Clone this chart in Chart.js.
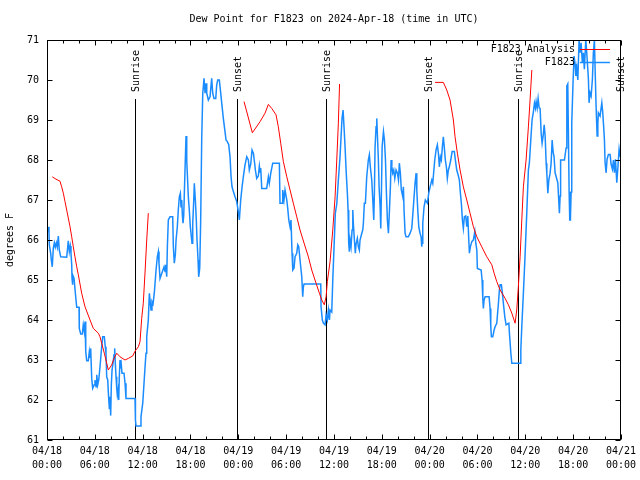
<!DOCTYPE html>
<html><head><meta charset="utf-8">
<script src="https://cdn.jsdelivr.net/npm/chart.js@4.4.0/dist/chart.umd.min.js"></script>
<style>html,body{margin:0;padding:0;background:#fff;}#wrap{width:640px;height:480px;}</style>
</head><body><div id="wrap"><canvas id="c" width="640" height="480"></canvas></div>
<script>
const titleText = 'Dew Point for F1823 on 2024-Apr-18 (time in UTC)';
const yAxisTitle = 'degrees F';
const seriesNames = ['F1823 Analysis', 'F1823'];
const yTicks = [61, 62, 63, 64, 65, 66, 67, 68, 69, 70, 71];
const xTickHours = [0, 6, 12, 18, 24, 30, 36, 42, 48, 54, 60, 66, 72];
const startMonth = '04';
const startDay = 18;
const sunHours = [11.05, 23.88, 35.02, 47.84, 59.12, 71.9];
const sunLabels = ['Sunrise', 'Sunset', 'Sunrise', 'Sunset', 'Sunrise', 'Sunset'];

const redHours = [0.67,1.13,1.63,1.84,2.05,2.26,2.47,2.67,2.89,3.10,3.30,3.51,3.73,3.93,4.35,4.77,5.40,5.81,6.44,6.65,6.86,7.19,7.49,7.69,8.12,8.41,8.75,9.16,9.79,10.20,10.75,11.04,11.46,11.67,11.88,12.08,12.30,12.51,12.71,
 18,
 24.72,25.76,26.73,27.35,27.77,28.19,28.73,29.02,29.32,29.65,30.08,30.49,30.90,31.33,31.74,32.25,32.79,33.21,33.75,34.17,34.47,34.79,35.01,35.17,35.51,35.85,36.14,36.35,36.55,36.70,
 42,
 48.68,49.72,50.15,50.56,50.98,51.19,51.48,51.82,52.23,52.66,53.07,53.49,53.92,54.54,55.17,55.80,56.09,56.42,56.84,57.47,57.88,58.31,58.72,58.93,59.13,59.35,59.56,59.76,60.10,60.39,60.60,60.82];
const redValues = [67.58,67.52,67.47,67.33,67.17,66.96,66.75,66.55,66.33,66.08,65.83,65.58,65.33,65.13,64.67,64.33,64.0,63.79,63.67,63.58,63.42,63.17,62.92,62.75,62.88,63.04,63.17,63.08,63.0,63.04,63.1,63.22,63.33,63.46,64.04,64.42,65.2,66.0,66.67,
 null,
 69.46,68.68,68.96,69.17,69.39,69.29,69.13,68.83,68.42,67.96,67.58,67.25,66.92,66.58,66.25,65.92,65.58,65.25,64.92,64.67,64.5,64.38,64.58,64.96,65.46,66.25,67.08,68.0,68.92,69.9,
 null,
 69.94,69.94,69.75,69.5,69.0,68.58,68.17,67.75,67.33,67.0,66.67,66.33,66.08,65.83,65.58,65.38,65.17,64.96,64.75,64.54,64.38,64.17,63.92,64.25,64.83,65.58,66.5,67.33,68.0,68.83,69.5,70.25];

const blueHours = [0.16,0.25,0.29,0.46,0.54,0.66,0.79,0.92,1.04,1.17,1.29,1.42,1.54,1.72,2.47,2.60,2.67,2.80,2.92,3.01,3.10,3.14,3.17,3.26,3.39,3.60,3.73,4.02,4.05,4.23,4.43,4.55,4.68,4.77,4.86,4.98,5.18,5.31,5.40,5.48,5.61,5.73,5.93,6.02,6.15,6.24,6.36,6.49,6.65,6.86,6.99,7.19,7.31,7.40,7.49,7.62,7.69,7.82,7.90,7.99,8.07,8.16,8.28,8.41,8.49,8.57,8.66,8.75,8.82,8.91,9.00,9.07,9.16,9.25,9.32,9.41,9.66,9.79,9.91,11.04,11.06,11.13,11.17,11.67,11.79,12.01,12.17,12.30,12.42,12.51,12.71,12.84,13.05,13.17,13.30,13.46,13.68,13.84,13.97,14.05,14.18,14.68,14.81,14.89,15.02,15.10,15.22,15.43,15.77,15.85,15.97,16.10,16.19,16.35,16.47,16.60,16.73,16.81,16.90,16.98,17.06,17.15,17.23,17.35,17.44,17.53,17.60,17.73,17.85,17.98,18.11,18.19,18.28,18.41,18.48,18.61,18.73,18.82,18.95,19.03,19.16,19.28,19.41,19.54,19.70,19.83,19.95,20.04,20.24,20.45,20.66,20.79,20.95,21.17,21.29,21.42,21.62,21.71,21.92,22.12,22.33,22.46,22.62,22.80,22.96,23.09,23.21,23.38,23.59,23.80,24.00,24.13,24.30,24.47,24.63,24.84,25.06,25.26,25.38,25.56,25.72,25.89,26.06,26.14,26.31,26.51,26.64,26.73,26.81,26.94,27.56,27.77,27.89,28.07,28.32,29.15,29.23,29.49,29.57,29.73,29.86,30.08,30.20,30.33,30.49,30.61,30.74,30.83,30.99,31.12,31.33,31.46,31.58,31.66,31.83,31.96,32.08,32.16,32.25,34.34,34.38,34.54,34.67,34.88,35.01,35.17,35.30,35.43,35.51,35.72,35.85,36.01,36.17,36.35,36.55,36.76,36.89,37.01,37.14,37.26,37.39,37.52,37.68,37.77,37.85,37.93,38.02,38.14,38.27,38.36,38.43,38.56,38.68,38.77,38.93,39.06,39.18,39.27,39.49,39.61,39.69,39.81,39.94,40.11,40.31,40.44,40.56,40.74,40.87,40.99,41.07,41.15,41.28,41.37,41.44,41.57,41.66,41.79,41.87,41.95,42.04,42.21,42.33,42.46,42.58,42.70,42.83,42.96,43.08,43.17,43.26,43.37,43.50,43.63,43.79,43.96,44.09,44.20,44.33,44.45,44.63,44.71,44.79,44.92,45.04,45.33,45.55,45.76,45.96,46.17,46.30,46.39,46.51,46.64,46.80,46.93,47.01,47.05,47.14,47.30,47.46,47.72,47.89,48.06,48.27,48.39,48.47,48.64,48.81,48.97,49.10,49.22,49.35,49.47,49.60,49.72,49.85,49.97,50.10,50.22,50.35,50.47,50.65,50.82,51.10,51.23,51.40,51.57,51.73,51.86,51.98,52.11,52.23,52.36,52.53,52.66,52.79,52.91,52.99,53.11,53.29,53.49,53.67,53.79,53.92,53.99,54.46,54.58,54.67,54.74,54.83,54.96,55.46,55.58,55.67,55.75,55.92,56.09,56.21,56.42,56.63,56.75,56.84,57.00,57.13,57.25,57.43,57.59,57.76,57.94,58.01,58.19,58.31,59.35,59.44,59.56,59.76,59.97,60.19,60.39,60.51,60.69,60.85,61.02,61.15,61.27,61.36,61.49,61.61,61.74,61.86,61.99,62.11,62.24,62.37,62.49,62.62,62.70,62.83,62.95,63.11,63.24,63.37,63.49,63.61,63.74,64.08,64.28,64.37,64.43,64.91,65.12,65.21,65.33,65.50,65.58,65.66,65.75,65.83,66.00,66.12,66.25,66.34,66.46,66.59,66.75,66.88,67.00,67.16,67.29,67.41,67.59,67.71,67.92,68.00,68.13,68.26,68.42,68.54,68.67,68.76,68.88,69.01,69.10,69.17,69.38,69.60,69.72,69.80,69.93,70.01,70.14,70.26,70.43,70.64,70.76,70.93,71.06,71.18,71.31,71.48,71.61,71.77,71.89,72.0];
const blueValues = [66.33,66.18,65.88,65.67,65.5,65.33,65.79,65.93,65.82,65.93,65.82,66.1,65.75,65.58,65.57,65.83,65.98,65.71,65.85,65.67,65.38,65.04,64.88,65.13,65.04,64.58,64.32,64.32,63.79,63.65,63.65,63.88,63.71,63.96,63.21,62.98,62.98,63.21,63.07,63.29,62.54,62.29,62.38,62.5,62.33,62.63,62.38,62.5,62.83,63.33,63.58,63.58,63.33,63.17,62.58,62.5,62.21,61.79,62.08,61.61,62.38,62.75,62.92,63.13,63.29,62.92,62.58,62.29,62.13,62.25,62.0,62.58,63.0,62.79,62.88,62.67,62.67,62.42,62.04,62.04,61.88,61.5,61.35,61.35,61.58,61.92,62.42,62.83,63.17,63.58,64.0,64.67,64.25,64.46,64.4,64.67,65.25,65.58,65.71,65.42,65.04,65.33,65.21,65.38,65.08,65.83,66.5,66.58,66.58,65.83,65.42,65.63,66.0,66.33,66.75,67.08,67.17,66.83,67.0,66.63,66.42,66.6,67.17,68.0,68.6,68.0,67.67,67.08,66.75,66.33,66.08,65.92,66.4,67.0,67.42,67.0,66.5,66.0,65.5,65.08,65.3,66.5,68.54,69.67,70.04,69.67,69.92,69.67,69.5,69.58,70.04,69.67,69.54,69.54,69.88,70.0,70.0,69.83,69.42,69.04,68.71,68.5,68.46,68.38,68.08,67.58,67.33,67.21,67.08,66.96,66.71,66.5,67.0,67.33,67.58,67.88,68.08,68.0,67.75,67.9,68.25,68.17,67.9,67.75,67.54,67.6,67.85,67.7,67.8,67.29,67.29,67.58,67.42,67.67,67.92,67.92,66.92,66.92,67.25,67.0,67.25,67.0,66.79,66.5,66.33,66.5,65.67,65.25,65.3,65.58,65.67,65.88,65.83,65.67,65.33,65.08,64.58,64.83,64.9,64.9,64.33,64.0,63.92,63.88,64.13,64.0,64.25,64.0,64.25,64.2,65.0,65.83,66.67,66.9,67.5,68.08,68.58,69.04,69.25,68.83,68.33,67.75,67.17,66.75,65.92,65.71,66.0,65.83,66.25,66.75,66.42,66.0,65.67,65.9,66.04,65.83,65.75,66.0,66.17,66.25,66.42,66.92,66.92,67.58,68.0,68.13,67.83,67.5,67.0,66.5,67.17,68.29,68.83,69.04,68.67,68.0,67.33,66.83,66.29,67.17,68.33,68.71,68.5,68.0,67.17,66.5,66.17,66.75,67.33,68.0,67.83,67.67,67.75,67.54,67.75,67.67,67.5,67.92,67.67,67.25,67.08,67.33,66.75,66.17,66.08,66.08,66.17,66.29,66.83,67.42,67.67,67.25,66.75,66.33,66.17,66.08,65.83,65.92,66.42,66.83,67.0,66.92,67.17,67.33,67.5,67.42,67.6,68.0,68.25,68.38,68.17,67.83,68.08,68.0,68.33,68.58,68.29,68.0,67.83,67.54,67.75,67.83,68.0,68.21,68.21,68.0,67.75,67.63,67.5,67.17,66.92,66.5,66.29,66.58,66.6,66.33,66.6,66.0,65.67,65.83,65.96,66.0,66.21,65.92,65.75,65.29,65.25,65.0,64.54,64.29,64.5,64.58,64.58,64.29,63.83,63.58,63.58,63.75,63.83,63.92,64.42,64.75,64.88,64.88,64.67,64.42,64.08,63.88,63.9,63.92,63.67,63.17,62.92,62.92,63.25,63.83,64.67,65.6,66.7,67.75,67.92,68.5,69.0,69.21,69.42,69.3,69.46,69.3,69.54,69.3,69.29,68.67,68.42,68.6,68.88,68.6,67.92,67.67,67.17,67.5,67.67,67.92,68.5,68.2,68.08,67.68,67.43,66.67,67.1,68.0,68.0,68.3,69.85,69.9,67.2,66.5,66.5,67.2,68.93,70.0,70.6,70.4,70.1,70.3,70.0,71.0,70.68,70.93,70.43,70.68,70.27,71.0,70.68,70.02,69.43,69.68,69.6,70.02,70.68,71.0,70.27,69.35,68.6,68.9,69.18,69.1,69.43,69.18,68.93,68.5,67.93,67.68,68.02,68.14,68.14,67.9,67.77,68.0,67.68,68.02,67.43,67.8,68.27,68.1,68.2];

const FONT_FAMILY = '"DejaVu Sans Mono", "Liberation Mono", monospace';
const FONT = '10px ' + FONT_FAMILY;
const RED = '#ff0000';
const BLUE = '#1a8cff';

function pad2(n){ return (n < 10 ? '0' : '') + n; }
function hourLabel(h){
  const day = startDay + Math.floor(h / 24);
  const hr = h % 24;
  return [startMonth + '/' + pad2(day), pad2(hr) + ':00'];
}

const decor = {
  id: 'decor',
  beforeDatasetsDraw(chart){
    const {ctx, chartArea: a, scales: {x}} = chart;
    ctx.save();
    ctx.strokeStyle = '#000';
    ctx.lineWidth = 1;
    ctx.font = FONT;
    ctx.fillStyle = '#000';
    sunHours.forEach((h, i) => {
      const px = Math.round(x.getPixelForValue(h)) + 0.5;
      ctx.beginPath();
      ctx.moveTo(px, a.top + 59);
      ctx.lineTo(px, a.bottom);
      ctx.stroke();
      ctx.save();
      ctx.translate(px + 1, a.top + 52);
      ctx.rotate(-Math.PI / 2);
      ctx.textAlign = 'left';
      ctx.textBaseline = 'middle';
      ctx.fillText(sunLabels[i], 0, 0);
      ctx.restore();
    });
    ctx.restore();
  },
  afterDraw(chart){
    const {ctx, chartArea: a, scales: {x, y}} = chart;
    ctx.save();
    ctx.strokeStyle = '#000';
    ctx.lineWidth = 1;
    const L = Math.round(a.left) + 0.5, R = Math.round(a.right) - 0.5;
    const T = Math.round(a.top) + 0.5, B = Math.round(a.bottom) - 0.5;
    ctx.strokeRect(L, T, R - L, B - T);
    ctx.beginPath();
    // y ticks (inward on both sides)
    yTicks.forEach(v => {
      const py = Math.round(y.getPixelForValue(v)) + 0.5;
      ctx.moveTo(L, py); ctx.lineTo(L + 5, py);
      ctx.moveTo(R, py); ctx.lineTo(R - 5, py);
    });
    // x ticks: major every 6 h, minor every 2 h, inward top and bottom
    for (let h = 0; h <= 72; h += 2) {
      const px = Math.round(x.getPixelForValue(h)) + 0.5;
      const len = (h % 6 === 0) ? 5 : 3;
      ctx.moveTo(px, B); ctx.lineTo(px, B - len);
      ctx.moveTo(px, T); ctx.lineTo(px, T + len);
    }
    ctx.stroke();
    // legend
    ctx.font = FONT;
    ctx.fillStyle = '#000';
    ctx.textAlign = 'right';
    ctx.textBaseline = 'middle';
    const colors = [RED, BLUE];
    seriesNames.forEach((name, i) => {
      const ly = a.top + 9 + i * 13;
      ctx.fillText(name, a.right - 46, ly);
      ctx.strokeStyle = colors[i];
      ctx.lineWidth = i === 0 ? 1 : 1.5;
      ctx.beginPath();
      ctx.moveTo(a.right - 41, Math.round(ly) + 0.5);
      ctx.lineTo(a.right - 11, Math.round(ly) + 0.5);
      ctx.stroke();
    });
    ctx.restore();
  }
};

new Chart(document.getElementById('c'), {
  type: 'line',
  data: {
    datasets: [
      {
        label: seriesNames[0],
        data: redHours.map((h, i) => ({x: h, y: redValues[i]})),
        borderColor: RED,
        borderWidth: 1,
        pointRadius: 0,
        tension: 0,
        spanGaps: false,
        fill: false
      },
      {
        label: seriesNames[1],
        data: blueHours.map((h, i) => ({x: h, y: blueValues[i]})),
        borderColor: BLUE,
        borderWidth: 1.5,
        pointRadius: 0,
        tension: 0,
        fill: false
      }
    ]
  },
  options: {
    responsive: false,
    animation: false,
    devicePixelRatio: 1,
    layout: {padding: {left: 0, right: 19, top: 0, bottom: 0}},
    plugins: {
      legend: {display: false},
      tooltip: {enabled: false},
      title: {
        display: true,
        text: titleText,
        fullSize: false,
        color: '#000',
        font: {family: FONT_FAMILY, size: 10, weight: 'normal', lineHeight: 1.2},
        padding: {top: 13, bottom: 15}
      }
    },
    scales: {
      x: {
        type: 'linear',
        min: 0, max: 72,
        afterBuildTicks: (axis) => { axis.ticks = xTickHours.map(v => ({value: v})); },
        afterFit: (s) => { s.height = 40; },
        grid: {display: false, drawTicks: false},
        border: {display: false},
        ticks: {
          autoSkip: false,
          maxRotation: 0,
          color: '#000',
          padding: 4,
          font: {family: FONT_FAMILY, size: 10, lineHeight: 1.45},
          callback: (v) => hourLabel(v)
        }
      },
      y: {
        type: 'linear',
        min: 61, max: 71,
        afterBuildTicks: (axis) => { axis.ticks = yTicks.map(v => ({value: v})); },
        afterFit: (s) => { s.width = 47; },
        grid: {display: false, drawTicks: false},
        border: {display: false},
        title: {
          display: true,
          text: yAxisTitle,
          color: '#000',
          font: {family: FONT_FAMILY, size: 10, lineHeight: 1.2},
          padding: {top: 4, bottom: 0}
        },
        ticks: {
          color: '#000',
          padding: 8,
          font: {family: FONT_FAMILY, size: 10},
          callback: (v) => String(v)
        }
      }
    }
  },
  plugins: [decor]
});
</script>
</body></html>
